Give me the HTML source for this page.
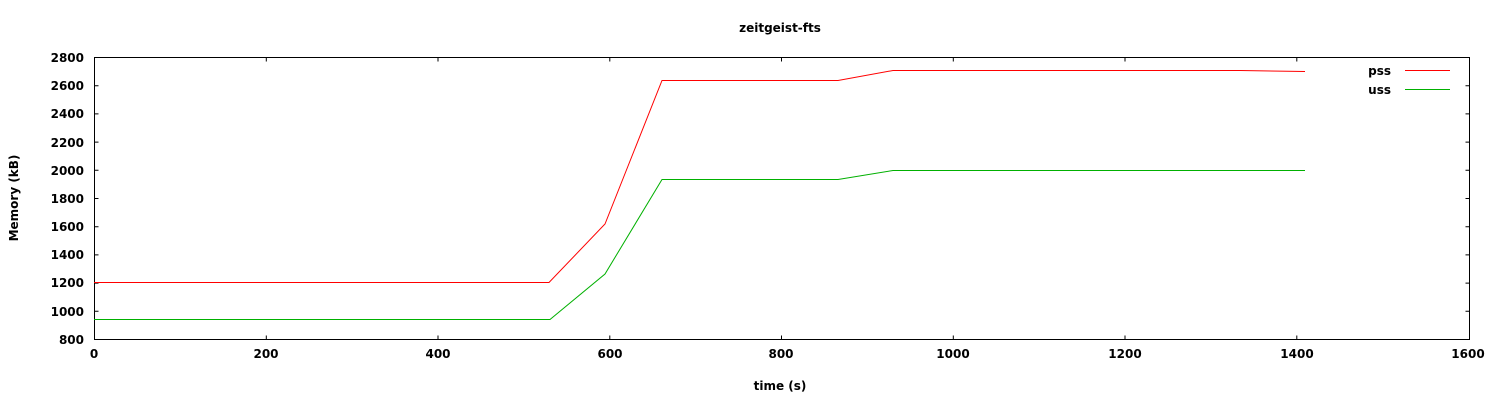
<!DOCTYPE html><html><head><style>body{margin:0;background:#fff}svg text{font-family:"DejaVu Sans","Liberation Sans",sans-serif;font-weight:bold;font-size:12px;fill:#000}</style></head><body>
<svg width="1500" height="400" xmlns="http://www.w3.org/2000/svg">
<rect width="1500" height="400" fill="#fff"/>
<text x="780" y="32" text-anchor="middle">zeitgeist-fts</text>
<g stroke="#000" stroke-width="1" fill="none">
<rect x="94.5" y="57.5" width="1375" height="282"/>
<path d="M94.5 85.7h4M94.5 113.9h4M94.5 142.1h4M94.5 170.3h4M94.5 198.5h4M94.5 226.7h4M94.5 254.9h4M94.5 283.1h4M94.5 311.3h4M1469.5 85.7h-4M1469.5 113.9h-4M1469.5 142.1h-4M1469.5 170.3h-4M1469.5 198.5h-4M1469.5 226.7h-4M1469.5 254.9h-4M1469.5 283.1h-4M1469.5 311.3h-4M266.3 339.5v-4M438 339.5v-4M609.8 339.5v-4M781.5 339.5v-4M953.3 339.5v-4M1125 339.5v-4M1296.8 339.5v-4M266.3 57.5v4M438 57.5v4M609.8 57.5v4M781.5 57.5v4M953.3 57.5v4M1125 57.5v4M1296.8 57.5v4"/>
</g>
<g text-anchor="end">
<text x="84" y="62">2800</text><text x="84" y="90">2600</text><text x="84" y="118">2400</text><text x="84" y="147">2200</text><text x="84" y="175">2000</text><text x="84" y="203">1800</text><text x="84" y="231">1600</text><text x="84" y="259">1400</text><text x="84" y="287">1200</text><text x="84" y="316">1000</text><text x="84" y="344">800</text>
</g>
<g text-anchor="middle">
<text x="94" y="358">0</text><text x="266" y="358">200</text><text x="438" y="358">400</text><text x="610" y="358">600</text><text x="781" y="358">800</text><text x="953" y="358">1000</text><text x="1125" y="358">1200</text><text x="1297" y="358">1400</text><text x="1468" y="358">1600</text>
<text x="780" y="390">time (s)</text>
</g>
<text transform="translate(18,198) rotate(-90)" text-anchor="middle">Memory (kB)</text>
<polyline fill="none" stroke="#f00" points="94,282.5 549,282.5 605,224 662,80.5 838,80.5 893,70.5 1240,70.5 1305,71.5"/>
<polyline fill="none" stroke="#00b000" points="94,319.5 550,319.5 605,274 662,179.5 838,179.5 893,170.5 1305,170.5"/>
<text x="1391" y="75" text-anchor="end">pss</text>
<line x1="1405" y1="70.5" x2="1450" y2="70.5" stroke="#f00"/>
<text x="1391" y="94" text-anchor="end">uss</text>
<line x1="1405" y1="89.5" x2="1450" y2="89.5" stroke="#00b000"/>
</svg></body></html>
